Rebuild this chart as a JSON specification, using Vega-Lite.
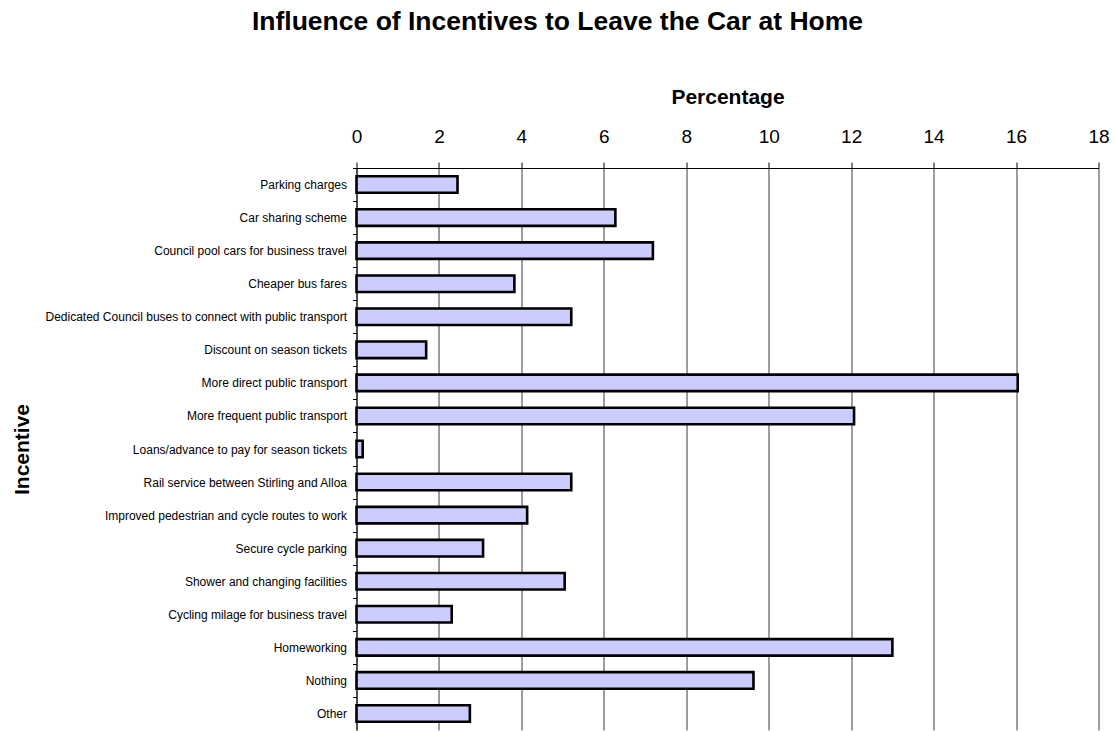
{
  "$schema": "https://vega.github.io/schema/vega-lite/v6.json",
  "width": 742,
  "height": 562,
  "autosize": "none",
  "padding": {"left": 356.5, "top": 168, "right": 16.5, "bottom": 1},
  "background": "white",
  "title": {
    "text": "Influence of Incentives to Leave the Car at Home",
    "font": "Liberation Sans",
    "fontSize": 26.5,
    "fontWeight": "bold",
    "color": "black",
    "anchor": "middle",
    "frame": "group",
    "dx": -170,
    "offset": 51
  },
  "data": {
    "values": [
      {"incentive": "Parking charges", "percentage": 2.45},
      {"incentive": "Car sharing scheme", "percentage": 6.28},
      {"incentive": "Council pool cars for business travel", "percentage": 7.19},
      {"incentive": "Cheaper bus fares", "percentage": 3.83},
      {"incentive": "Dedicated Council buses to connect with public transport", "percentage": 5.21},
      {"incentive": "Discount on season tickets", "percentage": 1.69},
      {"incentive": "More direct public transport", "percentage": 16.04},
      {"incentive": "More frequent public transport", "percentage": 12.07},
      {"incentive": "Loans/advance to pay for season tickets", "percentage": 0.15},
      {"incentive": "Rail service between Stirling and Alloa", "percentage": 5.21},
      {"incentive": "Improved pedestrian and cycle routes to work", "percentage": 4.14},
      {"incentive": "Secure cycle parking", "percentage": 3.07},
      {"incentive": "Shower and changing facilities", "percentage": 5.05},
      {"incentive": "Cycling milage for business travel", "percentage": 2.31},
      {"incentive": "Homeworking", "percentage": 13.0},
      {"incentive": "Nothing", "percentage": 9.63},
      {"incentive": "Other", "percentage": 2.75}
    ]
  },
  "mark": {"type": "bar", "fill": "#CCCCFF", "stroke": "black", "strokeWidth": 2.6},
  "encoding": {
    "y": {
      "field": "incentive",
      "type": "nominal",
      "sort": null,
      "scale": {"paddingInner": 0.5, "paddingOuter": 0.25},
      "axis": {
        "title": "Incentive",
        "titleFont": "Liberation Sans",
        "titleFontSize": 21,
        "titleFontWeight": "bold",
        "titleColor": "black",
        "titleAngle": -90,
        "titleX": -328,
        "titleY": 281,
        "titleAlign": "center",
        "titleBaseline": "alphabetic",
        "labelFont": "Liberation Sans",
        "labelFontSize": 12,
        "labelColor": "black",
        "labelPadding": 6,
        "labelLimit": 400,
        "labelOffset": 16.53,
        "tickSize": 4,
        "tickColor": "black",
        "tickOffset": -16.53,
        "domainColor": "black",
        "domainWidth": 1
      }
    },
    "x": {
      "field": "percentage",
      "type": "quantitative",
      "scale": {"domain": [0, 18], "nice": false},
      "axis": {
        "orient": "top",
        "title": "Percentage",
        "values": [0, 2, 4, 6, 8, 10, 12, 14, 16, 18],
        "titleFont": "Liberation Sans",
        "titleFontSize": 21,
        "titleFontWeight": "bold",
        "titleColor": "black",
        "titlePadding": 20,
        "labelFont": "Liberation Sans",
        "labelFontSize": 19,
        "labelColor": "black",
        "labelPadding": 16,
        "labelFlush": false,
        "tickSize": 6,
        "tickColor": "black",
        "domainColor": "black",
        "domainWidth": 1,
        "grid": true,
        "gridColor": "#3a3a3a",
        "gridWidth": 1
      }
    }
  },
  "config": {"view": {"stroke": null}}
}
